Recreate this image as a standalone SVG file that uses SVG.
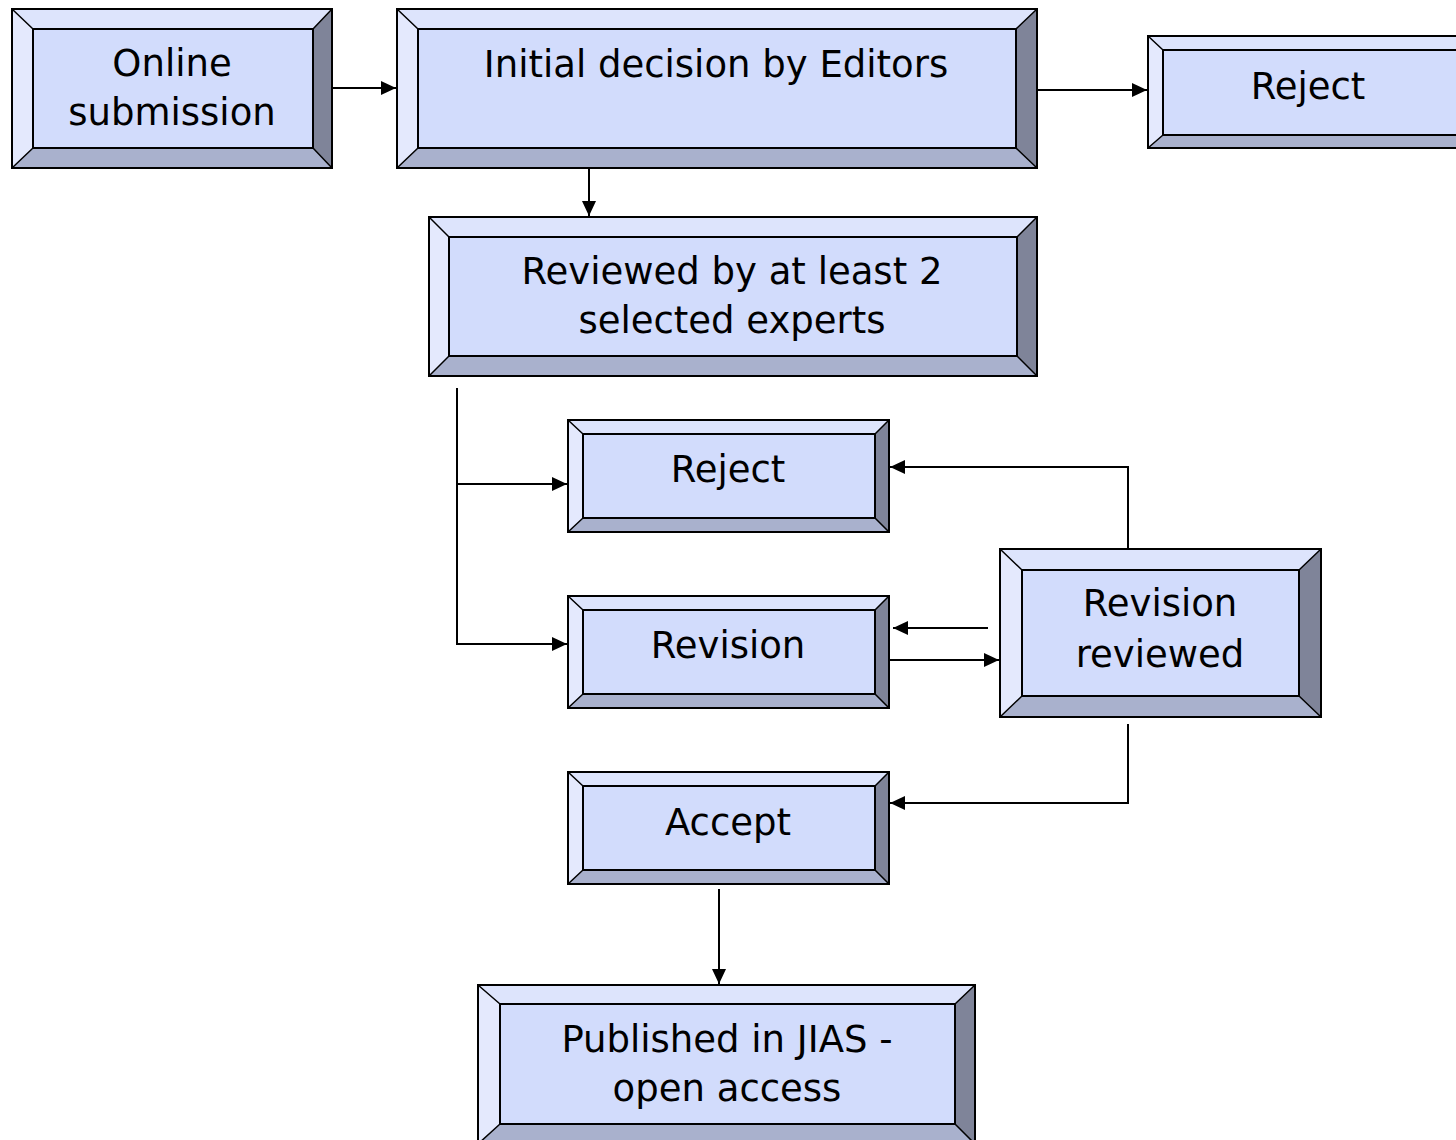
<svg xmlns="http://www.w3.org/2000/svg" width="1456" height="1140" viewBox="0 0 1456 1140">
<style>
.t{fill:#DDE4FC}.l{fill:#E4E9FD}.r{fill:#7F8499}.b{fill:#A9B1CD}.c{fill:#D2DCFC;stroke:#000;stroke-width:2}
.o{fill:none;stroke:#000;stroke-width:2}.d{stroke:#000;stroke-width:1.5}
.tx{font-family:"DejaVu Sans",sans-serif;font-size:37px;fill:#000;text-anchor:middle}
.cn{fill:none;stroke:#000;stroke-width:2}
</style>
<defs>
<marker id="ah" markerUnits="userSpaceOnUse" markerWidth="16" markerHeight="14" refX="15" refY="7" orient="auto"><path d="M0,0 L15,7 L0,14 Z" fill="#000"/></marker>
</defs>
<rect width="1456" height="1140" fill="#fff"/>
<g id="connectors">
<path class="cn" d="M332,88 H396" marker-end="url(#ah)"/>
<path class="cn" d="M1037,90 H1147" marker-end="url(#ah)"/>
<path class="cn" d="M589,168 V216" marker-end="url(#ah)"/>
<path class="cn" d="M457,388 V644 H567" marker-end="url(#ah)"/>
<path class="cn" d="M457,484 H567" marker-end="url(#ah)"/>
<path class="cn" d="M1128,549 V467 H890" marker-end="url(#ah)"/>
<path class="cn" d="M988,628 H893" marker-end="url(#ah)"/>
<path class="cn" d="M889,660 H999" marker-end="url(#ah)"/>
<path class="cn" d="M1128,724 V803 H890" marker-end="url(#ah)"/>
<path class="cn" d="M719,889 V984" marker-end="url(#ah)"/>
</g>
<g id="online-submission">
<polygon class="t" points="12,9 332,9 313,29 33,29"/><polygon class="l" points="12,9 33,29 33,148 12,168"/><polygon class="r" points="332,9 332,168 313,148 313,29"/><polygon class="b" points="12,168 33,148 313,148 332,168"/>
<rect class="c" x="33" y="29" width="280" height="119"/>
<path class="d" d="M12,9 L33,29 M332,9 L313,29 M12,168 L33,148 M332,168 L313,148"/><rect class="o" x="12" y="9" width="320" height="159"/>
<text class="tx" x="172" y="76">Online</text><text class="tx" x="172" y="125">submission</text>
</g>
<g id="initial-decision">
<polygon class="t" points="397,9 1037,9 1016,29 418,29"/><polygon class="l" points="397,9 418,29 418,148 397,168"/><polygon class="r" points="1037,9 1037,168 1016,148 1016,29"/><polygon class="b" points="397,168 418,148 1016,148 1037,168"/>
<rect class="c" x="418" y="29" width="598" height="119"/>
<path class="d" d="M397,9 L418,29 M1037,9 L1016,29 M397,168 L418,148 M1037,168 L1016,148"/><rect class="o" x="397" y="9" width="640" height="159"/>
<text class="tx" x="716" y="77">Initial decision by Editors</text>
</g>
<g id="reject-top">
<polygon class="t" points="1148,36 1476,36 1461,50 1163,50"/><polygon class="l" points="1148,36 1163,50 1163,135 1148,148"/><polygon class="r" points="1476,36 1476,148 1461,135 1461,50"/><polygon class="b" points="1148,148 1163,135 1461,135 1476,148"/>
<rect class="c" x="1163" y="50" width="298" height="85"/>
<path class="d" d="M1148,36 L1163,50 M1148,148 L1163,135"/><rect class="o" x="1148" y="36" width="328" height="112"/>
<text class="tx" x="1308" y="99">Reject</text>
</g>
<g id="reviewed">
<polygon class="t" points="429,217 1037,217 1017,237 449,237"/><polygon class="l" points="429,217 449,237 449,356 429,376"/><polygon class="r" points="1037,217 1037,376 1017,356 1017,237"/><polygon class="b" points="429,376 449,356 1017,356 1037,376"/>
<rect class="c" x="449" y="237" width="568" height="119"/>
<path class="d" d="M429,217 L449,237 M1037,217 L1017,237 M429,376 L449,356 M1037,376 L1017,356"/><rect class="o" x="429" y="217" width="608" height="159"/>
<text class="tx" x="732" y="284">Reviewed by at least 2</text><text class="tx" x="732" y="333">selected experts</text>
</g>
<g id="reject">
<polygon class="t" points="568,420 889,420 875,434 583,434"/><polygon class="l" points="568,420 583,434 583,518 568,532"/><polygon class="r" points="889,420 889,532 875,518 875,434"/><polygon class="b" points="568,532 583,518 875,518 889,532"/>
<rect class="c" x="583" y="434" width="292" height="84"/>
<path class="d" d="M568,420 L583,434 M889,420 L875,434 M568,532 L583,518 M889,532 L875,518"/><rect class="o" x="568" y="420" width="321" height="112"/>
<text class="tx" x="728" y="482">Reject</text>
</g>
<g id="revision">
<polygon class="t" points="568,596 889,596 875,610 583,610"/><polygon class="l" points="568,596 583,610 583,694 568,708"/><polygon class="r" points="889,596 889,708 875,694 875,610"/><polygon class="b" points="568,708 583,694 875,694 889,708"/>
<rect class="c" x="583" y="610" width="292" height="84"/>
<path class="d" d="M568,596 L583,610 M889,596 L875,610 M568,708 L583,694 M889,708 L875,694"/><rect class="o" x="568" y="596" width="321" height="112"/>
<text class="tx" x="728" y="658">Revision</text>
</g>
<g id="revision-reviewed">
<polygon class="t" points="1000,549 1321,549 1299,570 1022,570"/><polygon class="l" points="1000,549 1022,570 1022,696 1000,717"/><polygon class="r" points="1321,549 1321,717 1299,696 1299,570"/><polygon class="b" points="1000,717 1022,696 1299,696 1321,717"/>
<rect class="c" x="1022" y="570" width="277" height="126"/>
<path class="d" d="M1000,549 L1022,570 M1321,549 L1299,570 M1000,717 L1022,696 M1321,717 L1299,696"/><rect class="o" x="1000" y="549" width="321" height="168"/>
<text class="tx" x="1160" y="616">Revision</text><text class="tx" x="1160" y="667">reviewed</text>
</g>
<g id="accept">
<polygon class="t" points="568,772 889,772 875,786 583,786"/><polygon class="l" points="568,772 583,786 583,870 568,884"/><polygon class="r" points="889,772 889,884 875,870 875,786"/><polygon class="b" points="568,884 583,870 875,870 889,884"/>
<rect class="c" x="583" y="786" width="292" height="84"/>
<path class="d" d="M568,772 L583,786 M889,772 L875,786 M568,884 L583,870 M889,884 L875,870"/><rect class="o" x="568" y="772" width="321" height="112"/>
<text class="tx" x="728" y="835">Accept</text>
</g>
<g id="published">
<polygon class="t" points="478,985 975,985 955,1004 500,1004"/><polygon class="l" points="478,985 500,1004 500,1124 478,1144"/><polygon class="r" points="975,985 975,1144 955,1124 955,1004"/><polygon class="b" points="478,1144 500,1124 955,1124 975,1144"/>
<rect class="c" x="500" y="1004" width="455" height="120"/>
<path class="d" d="M478,985 L500,1004 M975,985 L955,1004 M478,1144 L500,1124 M975,1144 L955,1124"/><rect class="o" x="478" y="985" width="497" height="159"/>
<text class="tx" x="727" y="1052">Published in JIAS -</text><text class="tx" x="727" y="1101">open access</text>
</g>
</svg>
